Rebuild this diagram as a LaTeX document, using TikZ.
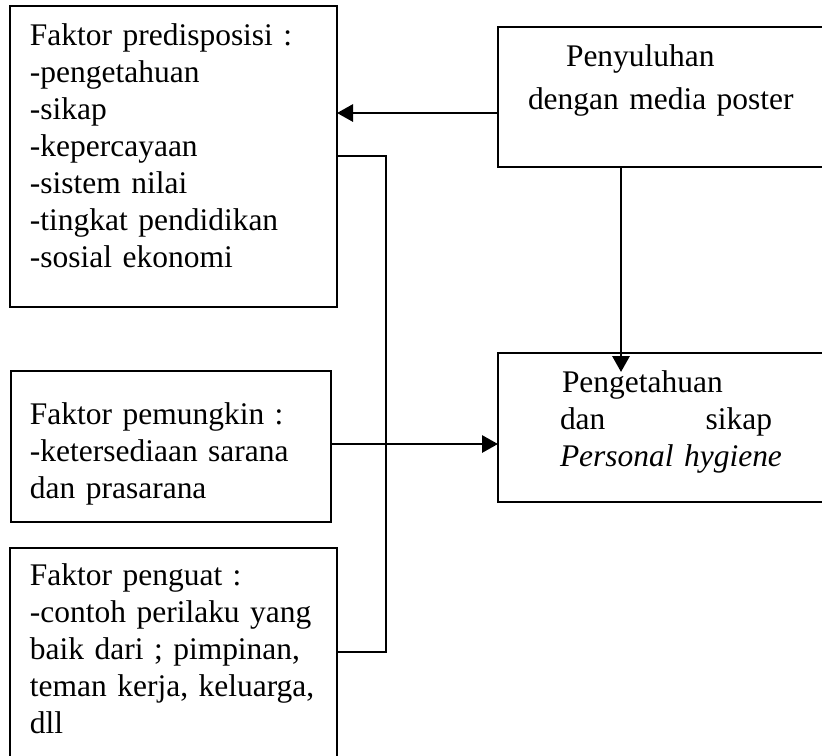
\documentclass[tikz,border=0pt]{standalone}
\usepackage{fontspec}
\setmainfont{Liberation Serif}
\usepackage{tikz}
\usetikzlibrary{arrows.meta,positioning,calc}
\tikzset{
  faktor/.style={
    draw,line width=0.75pt,outer sep=0pt,anchor=north west,
    inner ysep=0pt,align=left,font=\fontsize{11.8pt}{13.875pt}\selectfont
  },
  panah/.style={-{Triangle[length=6pt,width=6.4pt]},line width=1.05pt},
  kurung/.style={line width=0.4pt}
}

\begin{document}
\begin{tikzpicture}[x=0.375pt,y=-0.375pt]
  \useasboundingbox (0,0) rectangle (822,755);
  \clip (0,0) rectangle (822,755);
  \node[faktor,inner xsep=7.5pt,text width=107.625pt,
    text height=14.625pt,text depth=98.25pt] (predisposisi) at (10,6)
    {Faktor predisposisi :\\-pengetahuan\\-sikap\\-kepercayaan\\
     -sistem nilai\\-tingkat pendidikan\\-sosial ekonomi};
  \node[faktor,inner xsep=7.125pt,text width=105.75pt,
    text height=19.875pt,text depth=36.75pt] (pemungkin) at (11,371)
    {Faktor pemungkin :\\\mbox{-ketersediaan sarana}\\dan prasarana};
  \node[faktor,inner xsep=7.5pt,text width=107.625pt,
    text height=13.875pt,text depth=73.125pt] (penguat) at (10,548)
    {Faktor penguat :\\\mbox{-contoh perilaku yang}\\
     \mbox{baik dari ; pimpinan,}\\\mbox{teman kerja, keluarga,}\\dll};
  \node[faktor,inner xsep=11.25pt,text width=110pt,
    text height=14.625pt,text depth=37.875pt] (penyuluhan) at (498,27)
    {\hspace*{14.25pt}Penyuluhan\\[2.25pt]dengan media poster};
  \node[faktor,inner xsep=23.25pt,text width=100pt,
    text height=14.625pt,text depth=41.25pt] (pengetahuan) at (498,353)
    {\hspace*{0.75pt}Pengetahuan\\\makebox[79.5pt][l]{dan\hfill sikap}\\
     \textit{Personal hygiene}};
  \coordinate (masuk) at (621,372);
  \draw[kurung] (predisposisi.east |- 0,156) -| (386,652)
    -- (penguat.east |- 0,652);
  \draw[panah] (penyuluhan.west |- 0,113) -- (predisposisi.east |- 0,113);
  \draw[panah] (penyuluhan.south -| masuk) -- (masuk);
  \draw[panah] (pemungkin.east |- 0,444) -- (pengetahuan.west |- 0,444);
\end{tikzpicture}
\end{document}
